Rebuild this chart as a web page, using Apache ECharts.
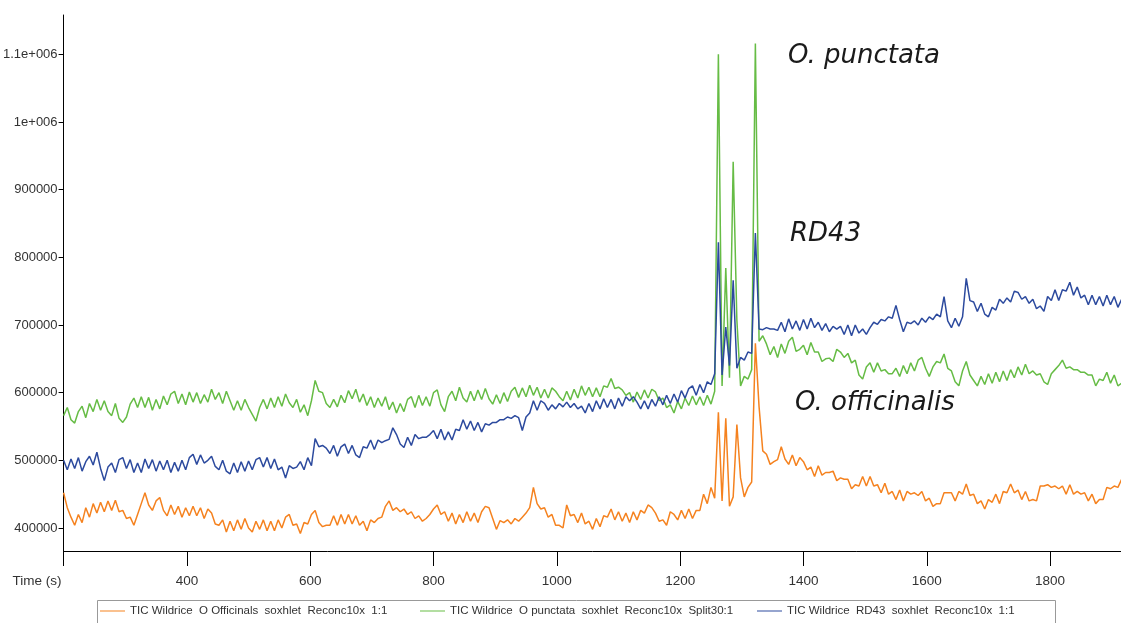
<!DOCTYPE html>
<html>
<head>
<meta charset="utf-8">
<script src="https://cdn.jsdelivr.net/npm/echarts@6/dist/echarts.min.js"></script>
<style>
html,body{margin:0;padding:0;background:#fff;}
#chart{width:1121px;height:623px;}
</style>
</head>
<body>
<div id="chart"></div>
<script>
// Retention time sampling grid (seconds)
const TIME_START = 200;
const TIME_STEP = 6;

// Series values, in thousands of counts (TIC)
const officinalis = [
452,430,416,404,420,408,430,416,436,422,
438,424,440,426,441,424,426,414,416,404,
420,436,452,434,426,440,445,426,418,434,
420,432,416,430,418,432,418,430,414,428,
422,406,404,412,394,410,396,412,398,414,
400,394,410,398,412,396,410,396,412,400,
416,420,404,406,392,408,406,420,426,408,
402,404,404,418,404,420,406,420,406,418,
404,410,396,412,408,414,416,432,440,426,
430,424,428,420,424,414,418,410,414,420,
428,434,420,424,410,422,406,420,408,424,
410,422,408,424,432,430,414,398,411,408,
412,406,414,410,416,422,430,460,436,428,
430,416,420,404,404,400,434,418,420,408,
422,406,410,398,414,402,418,416,428,412,
424,410,422,408,424,412,426,422,434,430,
422,410,412,404,424,420,412,426,414,428,
414,426,426,450,436,460,444,571,440,562,
432,446,553,474,446,460,468,673,579,514,
509,494,498,501,520,502,494,508,492,504,
498,486,490,476,492,478,482,482,484,470,
474,472,472,458,464,462,476,462,476,462,
464,452,466,450,454,442,456,440,454,450,
452,448,454,440,444,432,436,436,452,452,
452,440,454,450,465,448,450,436,440,428,
442,438,450,436,454,452,465,452,456,442,
454,440,442,440,462,462,464,460,462,458,
462,450,464,450,454,450,452,440,450,436,
442,442,460,458,462,460,472
];

const punctata = [
566,578,560,555,572,580,563,584,572,590,
574,588,572,566,584,562,556,564,583,592,
578,594,578,593,574,590,576,595,582,598,
602,584,598,582,601,586,600,584,597,586,
605,590,600,584,602,588,574,588,574,590,
578,568,558,578,590,576,592,578,594,580,
598,585,578,590,571,582,566,588,618,602,
600,584,578,590,579,596,585,603,591,605,
586,598,581,594,578,592,580,594,575,586,
570,584,572,590,594,578,596,581,594,580,
600,604,582,572,594,602,588,608,592,586,
602,588,604,590,606,591,583,597,584,600,
587,602,608,593,607,594,611,596,608,592,
605,592,607,602,594,588,602,589,605,592,
610,596,608,594,607,594,610,608,621,606,
608,604,596,600,586,601,590,604,592,605,
601,588,592,578,582,570,587,576,592,581,
595,582,594,581,596,583,602,1100,610,784,
622,941,707,610,624,620,634,1116,676,684,
672,656,668,652,672,658,676,682,661,664,
670,656,674,660,660,646,650,651,646,664,
660,652,658,644,648,626,620,638,644,630,
644,632,634,628,628,636,624,640,628,644,
632,648,652,636,624,638,646,644,657,636,
632,616,610,632,646,626,618,610,624,612,
628,614,630,616,632,618,634,622,638,626,
642,628,632,626,628,616,612,628,634,640,
648,636,638,634,634,630,630,626,626,610,
620,618,630,614,626,610,614
];

const rd43 = [
500,486,502,488,504,484,498,506,493,512,
488,470,490,496,482,501,504,488,501,482,
496,482,502,488,501,484,499,486,500,482,
497,484,500,486,504,509,494,508,496,500,
506,491,486,500,484,480,496,482,498,484,
499,486,501,504,490,504,488,502,486,490,
474,492,488,490,498,486,504,492,532,520,
522,518,510,522,506,520,524,510,522,508,
504,520,518,530,516,530,526,529,531,548,
538,524,519,534,522,538,532,534,534,538,
544,532,546,530,542,530,546,544,560,546,
558,544,556,542,554,552,556,556,560,560,
564,562,566,563,544,564,570,588,574,588,
584,574,582,576,584,579,586,578,584,576,
580,570,584,572,588,576,591,578,590,576,
592,580,594,588,594,586,576,588,576,590,
580,594,582,596,584,598,586,603,592,606,
610,596,612,600,616,612,628,822,626,697,
640,766,636,652,648,660,658,836,694,693,
696,694,694,692,704,690,709,694,706,692,
708,694,710,696,704,692,702,690,698,694,
698,686,700,684,700,688,694,686,696,704,
701,708,706,712,710,729,708,690,704,702,
706,700,710,704,712,708,716,712,742,706,
696,710,698,712,769,736,734,720,732,716,
712,726,722,738,732,740,734,750,748,738,
742,732,738,724,728,720,742,736,752,736,
752,750,763,744,756,740,744,730,744,730,
742,728,744,730,742,726,738
];

const seriesNames = [
  'TIC Wildrice  O Officinals  soxhlet  Reconc10x  1:1',
  'TIC Wildrice  O punctata  soxhlet  Reconc10x  Split30:1',
  'TIC Wildrice  RD43  soxhlet  Reconc10x  1:1'
];
const seriesColors = ['#F5821F', '#66BC45', '#2C4A9E'];

const xTickLabels = [400, 600, 800, 1000, 1200, 1400, 1600, 1800];
const yTickValues = [400000, 500000, 600000, 700000, 800000, 900000, 1000000, 1100000];
const yTickLabels = ['400000', '500000', '600000', '700000', '800000', '900000', '1e+006', '1.1e+006'];

const annotations = [
  {text: 'O. punctata', left: 788, top: 43},
  {text: 'RD43', left: 790, top: 221},
  {text: 'O. officinalis', left: 795, top: 390}
];

if (officinalis.length !== 287 || punctata.length !== 287 || rd43.length !== 287) {
  throw new Error('length mismatch ' + officinalis.length + ' ' + punctata.length + ' ' + rd43.length);
}

function toPairs(vals) {
  return vals.map((v, i) => [TIME_START + i * TIME_STEP, v * 1000]);
}

const labelFont = "'Liberation Sans',Arial,sans-serif";
const chart = echarts.init(document.getElementById('chart'), null, {renderer: 'canvas'});
const allValues = [officinalis, punctata, rd43];

chart.setOption({
  animation: false,
  backgroundColor: '#fff',
  grid: {left: 62, right: 0, top: 15, bottom: 72, containLabel: false},
  xAxis: {
    type: 'value', min: 200, max: 1915, interval: 200,
    axisLine: {show: true, lineStyle: {color: '#000', width: 1}},
    axisTick: {show: true, length: 15, lineStyle: {color: '#000', width: 1}},
    axisLabel: {customValues: xTickLabels, margin: 23, fontSize: 13.5, color: '#333', fontFamily: labelFont,
      formatter: v => String(v)},
    splitLine: {show: false},
    name: 'Time (s)', nameLocation: 'start', nameGap: 2,
    nameTextStyle: {fontSize: 13.5, color: '#333', fontFamily: labelFont, align: 'right', verticalAlign: 'top', padding: [23, 0, 0, 0]}
  },
  yAxis: {
    type: 'value', min: 366000, max: 1158000,
    axisLine: {show: true, lineStyle: {color: '#000', width: 1}},
    axisTick: {show: true, length: 5, customValues: yTickValues, lineStyle: {color: '#000'}},
    axisLabel: {customValues: yTickValues, margin: 6, fontSize: 13, color: '#333', fontFamily: labelFont,
      formatter: v => yTickLabels[yTickValues.indexOf(v)]},
    splitLine: {show: false}
  },
  legend: seriesNames.map((n, i) => ({
    data: [n], left: [100, 420, 757][i], top: 605, icon: 'rect', itemWidth: 25, itemHeight: 1,
    padding: 0, itemGap: 0,
    textStyle: {fontSize: 11.5, color: '#333', fontFamily: labelFont}
  })),
  graphic: [
    {type: 'rect', left: 95, top: 598, shape: {width: 958, height: 40}, style: {fill: 'none', stroke: '#999', lineWidth: 1}, silent: true},
    ...annotations.map(a => ({
      type: 'text', left: a.left, top: a.top,
      style: {text: a.text, fontSize: 26, fontStyle: 'italic', fontFamily: "'DejaVu Sans',sans-serif", fill: '#1a1a1a'}
    }))
  ],
  series: seriesNames.map((n, i) => ({
    name: n, type: 'line', showSymbol: false, symbol: 'none',
    data: toPairs(allValues[i]),
    lineStyle: {color: seriesColors[i], width: 1.5},
    itemStyle: {color: seriesColors[i]},
    z: 2 + i
  }))
});
</script>
</body>
</html>
